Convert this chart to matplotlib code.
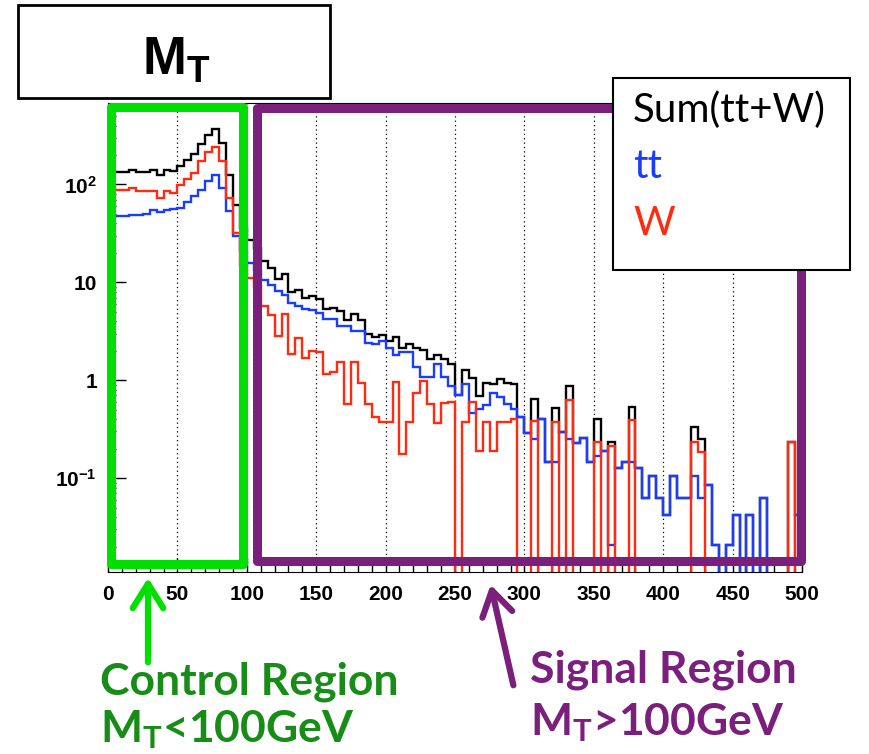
import matplotlib
matplotlib.use("Agg")
import matplotlib.pyplot as plt
import matplotlib.patches as mpatches
import matplotlib.transforms as mtransforms
from matplotlib.ticker import MultipleLocator, LogLocator, NullFormatter, FixedLocator, FixedFormatter
import numpy as np

plt.rcParams['mathtext.fontset'] = 'custom'
plt.rcParams['mathtext.rm'] = 'Liberation Sans'
plt.rcParams['mathtext.bf'] = 'Liberation Sans:bold'
plt.rcParams['mathtext.sf'] = 'Lato:bold'

# 5 GeV bins from 0 to 500
edges = np.arange(0, 505, 5)

# tt contribution per bin
tt = np.array([
    47, 48, 48, 49, 49, 50, 55, 52, 54.5, 56,
    57.6, 65.7, 75.7, 88.6, 108, 126, 92, 53, 29.5, 21,
    15.7, 13.5, 10.6, 9.45, 8.07, 7.46, 6.13, 5.76, 5.32, 5.24,
    4.85, 4.21, 4.21, 3.6, 3.55, 3.2, 3.2, 2.43, 2.35, 2.52,
    2.12, 1.82, 1.96, 1.96, 1.38, 1.07, 1.09, 1.46, 1.07, 0.875,
    0.708, 0.91, 0.459, 0.505, 0.558, 0.736, 0.67, 0.567, 0.505, 0.424,
    0.291, 0.251, 0.399, 0.147, 0.147, 0.294, 0.251, 0.23, 0.255, 0.147,
    0.168, 0.189, 0.021, 0.126, 0.147, 0.147, 0.126, 0.0634, 0.105, 0.0634,
    0.0418, 0.105, 0.0634, 0.0634, 0.105, 0.0634, 0.0848, 0.021, 0, 0.021,
    0.0425, 0, 0.0425, 0, 0.0634, 0, 0, 0, 0, 0.042,
])

# W contribution per bin
w = np.array([
    90, 87, 87, 92, 85, 85, 85, 73, 85, 82,
    98, 114, 131, 173, 214, 240, 173, 73, 32, 15,
    11.1, 9.08, 5.76, 4.66, 2.84, 4.73, 1.85, 2.69, 1.68, 2.0,
    1.93, 1.16, 1.22, 1.55, 0.567, 1.55, 0.93, 0.567, 0.424, 0.377,
    0.377, 0.968, 0.176, 0.377, 0.747, 0.984, 0.572, 0.363, 0.582, 0.604,
    0, 0.377, 0.604, 0.19, 0.371, 0.19, 0.371, 0.377, 0.402, 0,
    0, 0.386, 0, 0, 0.377, 0, 0.628, 0, 0, 0,
    0.235, 0, 0.213, 0, 0, 0.392, 0, 0, 0, 0,
    0, 0, 0, 0, 0.232, 0.186, 0, 0, 0, 0,
    0, 0, 0, 0, 0, 0, 0, 0, 0.232, 0,
])

total = tt + w

ytick_vals = [0.1, 1, 10, 100]
ytick_labels = [r'$\mathbf{10^{-1}}$', '1', '10', r'$\mathbf{10^{2}}$']
xtick_vals = np.arange(0, 501, 50)

c_blue = '#1a3cff'
c_red = '#ff2a10'
c_green = '#00e000'
c_dkgreen = '#178c17'
c_purple = '#7a1f7c'


def floor(v):
    # empty bins go to the bottom of the frame like ROOT does
    return np.where(v > 0, v, 1e-6)


fig = plt.figure(figsize=(8.7, 7.54), dpi=100)
ax = fig.add_axes([108/870, 1 - 572/754, (802 - 108)/870, (572 - 103)/754])

ax.stairs(floor(total), edges, color='black', lw=1.7, baseline=None)
ax.stairs(floor(tt), edges, color=c_blue, lw=1.7, baseline=None)
ax.stairs(floor(w), edges, color=c_red, lw=1.7, baseline=None)

ax.set_yscale('log')
ax.set_xlim(0, 500)
ax.set_ylim(0.011, 680)

ax.grid(axis='x', which='major', linestyle=(0, (1, 2.5)), color='black', lw=0.9)
ax.set_axisbelow(True)

ax.xaxis.set_major_locator(FixedLocator(xtick_vals))
ax.xaxis.set_minor_locator(MultipleLocator(10))
ax.yaxis.set_major_locator(FixedLocator(ytick_vals))
ax.yaxis.set_major_formatter(FixedFormatter(ytick_labels))
ax.yaxis.set_minor_locator(LogLocator(subs=np.arange(2, 10)))
ax.yaxis.set_minor_formatter(NullFormatter())
ax.tick_params(axis='both', which='both', direction='in', width=1)
ax.tick_params(axis='y', which='major', length=13, pad=8)
ax.tick_params(axis='y', which='minor', length=6)
ax.tick_params(axis='x', which='major', length=10, pad=9)
ax.tick_params(axis='x', which='minor', length=5)
for lab in ax.get_xticklabels() + ax.get_yticklabels():
    lab.set_fontfamily('Liberation Sans')
    lab.set_fontweight('bold')
    lab.set_fontsize(15)

# control / signal region boxes
trans = mtransforms.blended_transform_factory(ax.transData, ax.transAxes)
ax.add_patch(mpatches.Rectangle((2.2, 0.017), 95.1, 0.974, transform=trans,
                                fill=False, ec=c_green, lw=6.5, clip_on=False,
                                joinstyle='round', zorder=5))
ax.add_patch(mpatches.Rectangle((107.7, 0.0235), 391.6, 0.9655, transform=trans,
                                fill=False, ec=c_purple, lw=6.5, clip_on=False,
                                joinstyle='round', zorder=5))

# title box
fig.add_artist(mpatches.Rectangle((18/870, 1 - 98/754), 312/870, 93/754,
                                  transform=fig.transFigure, fc='white', ec='black', lw=2))
fig.text(176/870, 1 - 60/754, r'$\mathbf{M_T}$', fontsize=38, ha='center', va='center')

# legend box
fig.add_artist(mpatches.Rectangle((613/870, 1 - 270/754), 237/870, 192/754,
                                  transform=fig.transFigure, fc='white', ec='black',
                                  lw=1.5, zorder=3))
fig.text(633/870, 1 - 122/754, 'Sum(tt+W)', color='black', fontsize=29,
         fontfamily='Lato', va='baseline', zorder=4)
fig.text(633/870, 1 - 178/754, 'tt', color=c_blue, fontsize=29,
         fontfamily='Lato', va='baseline', zorder=4)
fig.text(633/870, 1 - 235/754, 'W', color=c_red, fontsize=29,
         fontfamily='Lato', va='baseline', zorder=4)

# arrows pointing at the regions
fig.add_artist(mpatches.FancyArrowPatch((148/870, 1 - 665/754), (148/870, 1 - 575/754),
                                        transform=fig.transFigure, color=c_green, lw=4.5,
                                        arrowstyle='->,head_length=0.8,head_width=0.5',
                                        mutation_scale=22))
fig.add_artist(mpatches.FancyArrowPatch((514/870, 1 - 688/754), (490/870, 1 - 582/754),
                                        transform=fig.transFigure, color=c_purple, lw=4.5,
                                        arrowstyle='->,head_length=0.8,head_width=0.5',
                                        mutation_scale=22))

fig.text(100/870, 1 - 695/754, 'Control Region', color=c_dkgreen, fontsize=32,
         fontfamily='Lato', fontweight='bold', va='baseline')
fig.text(100/870, 1 - 742/754, r'$\mathsf{M_T}$<100GeV', color=c_dkgreen, fontsize=32,
         fontfamily='Lato', fontweight='bold', va='baseline')
fig.text(530/870, 1 - 682/754, 'Signal Region', color=c_purple, fontsize=32,
         fontfamily='Lato', fontweight='bold', va='baseline')
fig.text(530/870, 1 - 735/754, r'$\mathsf{M_T}$>100GeV', color=c_purple, fontsize=32,
         fontfamily='Lato', fontweight='bold', va='baseline')

fig.savefig('out.png', dpi=100)
